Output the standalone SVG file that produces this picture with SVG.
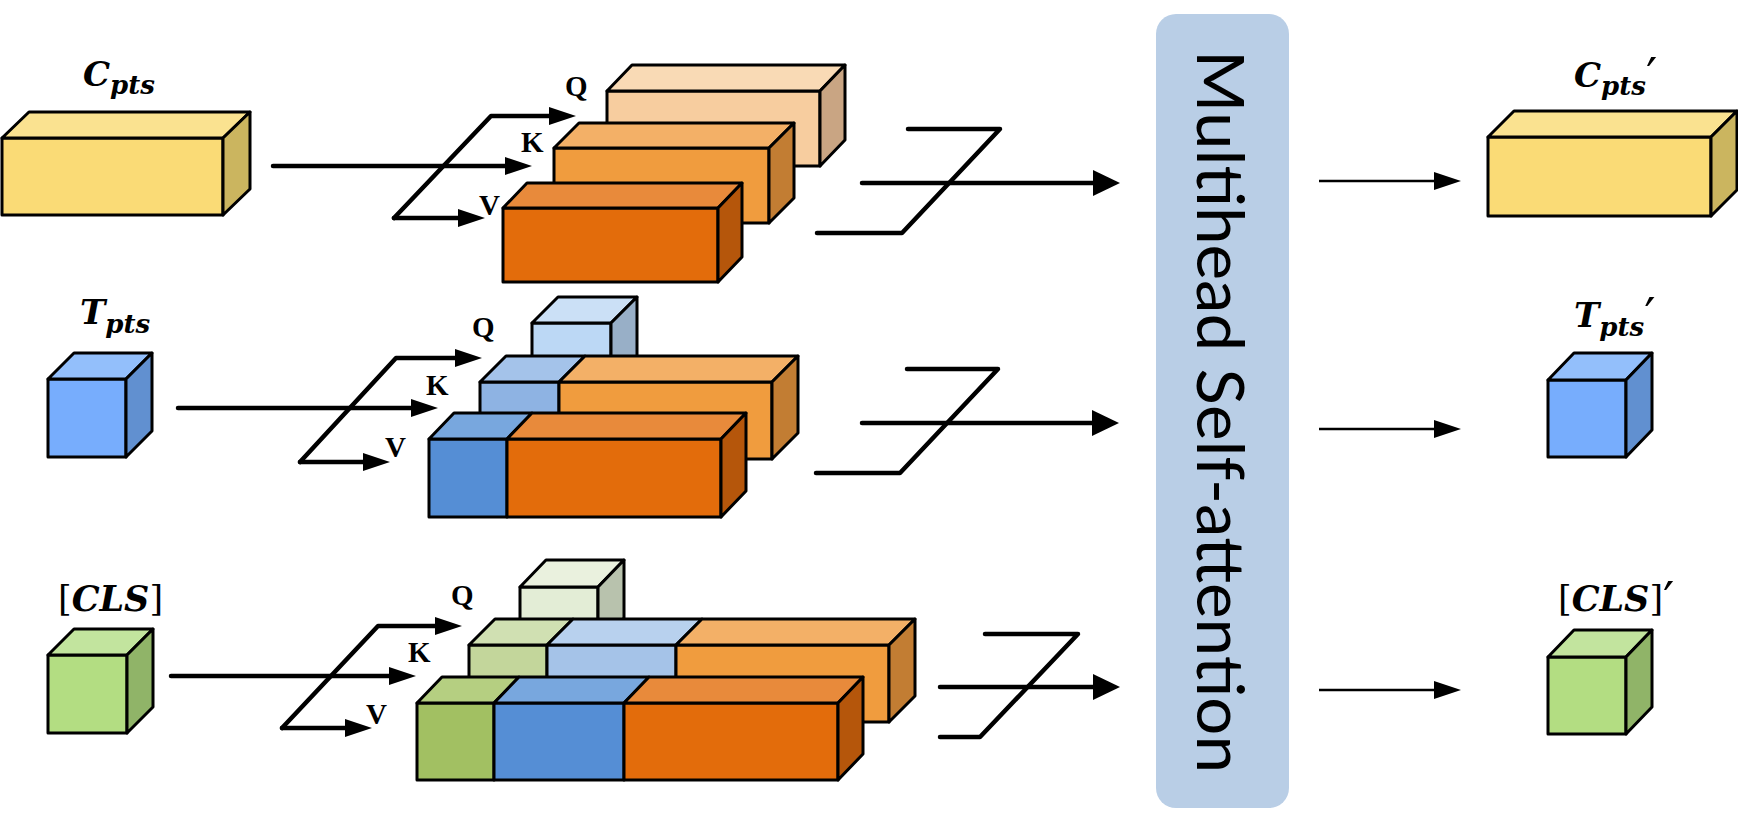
<svg xmlns="http://www.w3.org/2000/svg" width="1738" height="823" viewBox="0 0 1738 823">
<style>
.b{stroke:#000;stroke-width:3;stroke-linejoin:round}
.ln{fill:none;stroke:#000;stroke-width:4.5;stroke-linejoin:round;stroke-linecap:round}
.th{fill:none;stroke:#000;stroke-width:2.5}
.m{font-family:"DejaVu Serif","Liberation Serif",serif;font-weight:bold;font-style:italic;fill:#000}
.sub{font-size:26px}
.br{font-style:normal;font-weight:normal}
.pr{font-style:normal;font-weight:normal;font-size:50px}
.qkv{font-family:"Liberation Serif","Times New Roman",serif;font-weight:bold;font-size:29px;fill:#000}
.yF{fill:#FADB76}.yT{fill:#FAE290}.yS{fill:#CBB55F}
.bF{fill:#77ADFD}.bT{fill:#93BFFB}.bS{fill:#6190D0}
.gF{fill:#B3DD82}.gT{fill:#C2E49E}.gS{fill:#90B468}
.pF{fill:#F7CD9F}.pT{fill:#F9DAB5}.pS{fill:#C9A583}
.oF{fill:#F09C3E}.oT{fill:#F3B067}.oS{fill:#C27D33}
.dF{fill:#E36C0B}.dT{fill:#E88A3B}.dS{fill:#B5560B}
.lbF{fill:#BCD8F5}.lbT{fill:#CBE0F6}.lbS{fill:#98AFC7}
.kbF{fill:#8EB3E3}.kbT{fill:#A4C3EA}
.vbF{fill:#558ED5}.vbT{fill:#78A7DE}
.lgF{fill:#E3EDD6}.lgT{fill:#EAF1DE}.lgS{fill:#B8C2AD}
.kgF{fill:#C3D69B}.kgT{fill:#D0E0B2}
.klF{fill:#A5C3E8}.klT{fill:#B8D1EE}
.vgF{fill:#A2C062}.vgT{fill:#B5CF81}
</style>
<defs>
<marker id="ah" markerUnits="userSpaceOnUse" markerWidth="28" markerHeight="20" viewBox="0 -10 28 20" refX="1" refY="0" orient="auto"><path d="M0,-9 L27,0 L0,9 z" fill="#000"/></marker>
<marker id="ahL" markerUnits="userSpaceOnUse" markerWidth="28" markerHeight="28" viewBox="0 -14 28 28" refX="1" refY="0" orient="auto"><path d="M0,-13 L27,0 L0,13 z" fill="#000"/></marker>
</defs>

<g id="mhsa">
<rect x="1156" y="14" width="133" height="794" rx="20" ry="20" fill="#B9CEE6"/>
<text transform="translate(1197,50) rotate(90)" x="0" y="0" font-family="Lato,'Open Sans',sans-serif" font-size="66" textLength="723" lengthAdjust="spacingAndGlyphs" fill="#000">Multihead Self-attention</text>
</g>

<g id="connectors">
<line class="ln" x1="273" y1="166" x2="506" y2="166" marker-end="url(#ah)"/>
<line class="ln" x1="178" y1="408" x2="412" y2="408" marker-end="url(#ah)"/>
<line class="ln" x1="171" y1="676" x2="390" y2="676" marker-end="url(#ah)"/>
<path class="ln" d="M394,218 L491,116 L550,116" marker-end="url(#ah)"/>
<path class="ln" d="M394,218 L459,218" marker-end="url(#ah)"/>
<path class="ln" d="M300,462 L396,358 L456,358" marker-end="url(#ah)"/>
<path class="ln" d="M300,462 L364,462" marker-end="url(#ah)"/>
<path class="ln" d="M282,728 L378,626 L436,626" marker-end="url(#ah)"/>
<path class="ln" d="M282,728 L346,728" marker-end="url(#ah)"/>
<path class="ln" d="M908,129 L1000,129 L902,233 L817,233"/>
<line class="ln" x1="862" y1="183" x2="1094" y2="183" marker-end="url(#ahL)"/>
<path class="ln" d="M907,369 L998,369 L900,473 L816,473"/>
<line class="ln" x1="862" y1="423" x2="1093" y2="423" marker-end="url(#ahL)"/>
<path class="ln" d="M985,634 L1078,634 L980,737 L940,737"/>
<line class="ln" x1="940" y1="687" x2="1094" y2="687" marker-end="url(#ahL)"/>
<line class="th" x1="1319" y1="181" x2="1435" y2="181" marker-end="url(#ah)"/>
<line class="th" x1="1319" y1="429" x2="1435" y2="429" marker-end="url(#ah)"/>
<line class="th" x1="1319" y1="690" x2="1435" y2="690" marker-end="url(#ah)"/>
</g>

<g id="in-cpts">
<rect class="b yF" x="2" y="138" width="221" height="77"/>
<polygon class="b yT" points="2,138 29,112 250,112 223,138"/>
<polygon class="b yS" points="223,138 250,112 250,189 223,215"/>
<text class="m" x="83" y="86" font-size="34">C<tspan class="sub" dy="8">pts</tspan></text>
</g>

<g id="in-tpts">
<rect class="b bF" x="48" y="379" width="78" height="78"/>
<polygon class="b bT" points="48,379 74,353 152,353 126,379"/>
<polygon class="b bS" points="126,379 152,353 152,431 126,457"/>
<text class="m" x="80" y="324" font-size="34">T<tspan class="sub" dy="9">pts</tspan></text>
</g>

<g id="in-cls">
<rect class="b gF" x="48" y="655" width="79" height="78"/>
<polygon class="b gT" points="48,655 74,629 153,629 127,655"/>
<polygon class="b gS" points="127,655 153,629 153,707 127,733"/>
<text class="m" x="58" y="611" font-size="35"><tspan class="br">[</tspan>CLS<tspan class="br">]</tspan></text>
</g>

<g id="qkv-cpts">
<rect class="b pF" x="607" y="91" width="213" height="75"/>
<polygon class="b pT" points="607,91 632,65 845,65 820,91"/>
<polygon class="b pS" points="820,91 845,65 845,140 820,166"/>
<rect class="b oF" x="554" y="148" width="215" height="75"/>
<polygon class="b oT" points="554,148 579,123 794,123 769,148"/>
<polygon class="b oS" points="769,148 794,123 794,198 769,223"/>
<rect class="b dF" x="503" y="208" width="215" height="74"/>
<polygon class="b dT" points="503,208 527,183 742,183 718,208"/>
<polygon class="b dS" points="718,208 742,183 742,257 718,282"/>
<text class="qkv" x="565" y="96">Q</text>
<text class="qkv" x="521" y="152">K</text>
<text class="qkv" x="479" y="215">V</text>
</g>

<g id="qkv-tpts">
<rect class="b lbF" x="532" y="323" width="79" height="59"/>
<polygon class="b lbT" points="532,323 558,297 637,297 611,323"/>
<polygon class="b lbS" points="611,323 637,297 637,356 611,382"/>
<rect class="b kbF" x="480" y="382" width="79" height="77"/>
<rect class="b oF" x="559" y="382" width="213" height="77"/>
<polygon class="b kbT" points="480,382 506,356 585,356 559,382"/>
<polygon class="b oT" points="559,382 585,356 798,356 772,382"/>
<polygon class="b oS" points="772,382 798,356 798,433 772,459"/>
<rect class="b vbF" x="429" y="439" width="78" height="78"/>
<rect class="b dF" x="507" y="439" width="214" height="78"/>
<polygon class="b vbT" points="429,439 454,413 532,413 507,439"/>
<polygon class="b dT" points="507,439 532,413 746,413 721,439"/>
<polygon class="b dS" points="721,439 746,413 746,491 721,517"/>
<text class="qkv" x="472" y="337">Q</text>
<text class="qkv" x="426" y="395">K</text>
<text class="qkv" x="385" y="457">V</text>
</g>

<g id="qkv-cls">
<rect class="b lgF" x="520" y="587" width="78" height="58"/>
<polygon class="b lgT" points="520,587 546,560 624,560 598,587"/>
<polygon class="b lgS" points="598,587 624,560 624,618 598,645"/>
<rect class="b kgF" x="469" y="645" width="78" height="77"/>
<rect class="b klF" x="547" y="645" width="129" height="77"/>
<rect class="b oF" x="676" y="645" width="213" height="77"/>
<polygon class="b kgT" points="469,645 495,619 573,619 547,645"/>
<polygon class="b klT" points="547,645 573,619 702,619 676,645"/>
<polygon class="b oT" points="676,645 702,619 915,619 889,645"/>
<polygon class="b oS" points="889,645 915,619 915,696 889,722"/>
<rect class="b vgF" x="417" y="703" width="77" height="77"/>
<rect class="b vbF" x="494" y="703" width="130" height="77"/>
<rect class="b dF" x="624" y="703" width="214" height="77"/>
<polygon class="b vgT" points="417,703 442,677 519,677 494,703"/>
<polygon class="b vbT" points="494,703 519,677 649,677 624,703"/>
<polygon class="b dT" points="624,703 649,677 863,677 838,703"/>
<polygon class="b dS" points="838,703 863,677 863,754 838,780"/>
<text class="qkv" x="451" y="605">Q</text>
<text class="qkv" x="408" y="662">K</text>
<text class="qkv" x="366" y="724">V</text>
</g>

<g id="out-cpts">
<rect class="b yF" x="1488" y="137" width="223" height="79"/>
<polygon class="b yT" points="1488,137 1514,111 1737,111 1711,137"/>
<polygon class="b yS" points="1711,137 1737,111 1737,190 1711,216"/>
<text class="m" x="1574" y="87" font-size="34">C<tspan class="sub" dy="8">pts</tspan><tspan class="pr" dy="-1">′</tspan></text>
</g>

<g id="out-tpts">
<rect class="b bF" x="1548" y="380" width="78" height="77"/>
<polygon class="b bT" points="1548,380 1574,353 1652,353 1626,380"/>
<polygon class="b bS" points="1626,380 1652,353 1652,430 1626,457"/>
<text class="m" x="1574" y="327" font-size="34">T<tspan class="sub" dy="9">pts</tspan><tspan class="pr" dy="-2">′</tspan></text>
</g>

<g id="out-cls">
<rect class="b gF" x="1548" y="657" width="78" height="77"/>
<polygon class="b gT" points="1548,657 1574,630 1652,630 1626,657"/>
<polygon class="b gS" points="1626,657 1652,630 1652,707 1626,734"/>
<text class="m" x="1558" y="611" font-size="35"><tspan class="br">[</tspan>CLS<tspan class="br">]</tspan><tspan class="pr" dy="7">′</tspan></text>
</g>
</svg>
